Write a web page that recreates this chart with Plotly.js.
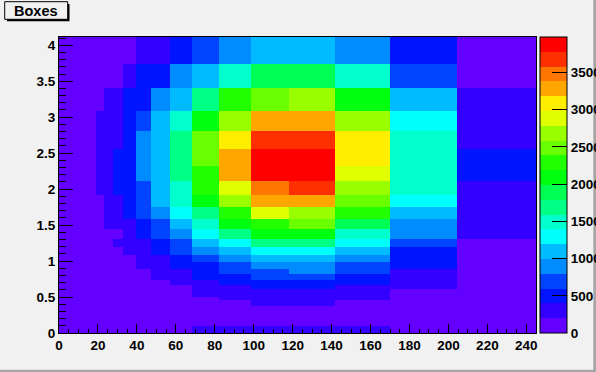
<!DOCTYPE html>
<html>
<head>
<meta charset="utf-8">
<script src="https://cdn.plot.ly/plotly-3.0.1.min.js"></script>
<style>
html,body{margin:0;padding:0;background:#f1f1f1;}
#chart{width:596px;height:372px;}
</style>
</head>
<body>
<div id="chart"></div>
<script>
// Bin edges of the variable-width boxes (x and y)
const xEdges = [0, 0.2, 0.24, 0.288, 0.3456, 0.41472, 0.497664, 0.5971968, 0.7166362, 0.8599634,
  1.0319561, 1.2383473, 1.4860167, 1.7832201, 2.1398641, 2.5678369, 3.0814043, 3.6976852,
  4.4372222, 5.3246667, 6.3896, 7.66752, 9.201024, 11.041229, 13.249475, 15.89937,
  19.079243, 22.895092, 27.47411, 32.968933, 39.562719, 47.475263, 56.970316, 68.364379,
  82.037254, 98.444705, 118.133646, 141.760376, 170.112451, 204.134941, 244.961929];
const yEdges = [0, 0.1, 0.11, 0.121, 0.1331, 0.14641, 0.161051, 0.1771561, 0.1948717, 0.2143589,
  0.2357948, 0.2593742, 0.2853117, 0.3138428, 0.3452271, 0.3797498, 0.4177248, 0.4594973,
  0.505447, 0.5559917, 0.6115909, 0.67275, 0.740025, 0.8140275, 0.8954302, 0.9849733,
  1.0834706, 1.1918177, 1.3109994, 1.4420994, 1.5863093, 1.7449402, 1.9194342, 2.1113777,
  2.3225154, 2.554767, 2.8102437, 3.0912681, 3.4003949, 3.7404343, 4.1144778];

// Bin contents (rows = y bins from bottom, columns = x bins from left), estimated from colour bands
const zCounts = [
 [100,100,100,100,100,100,100,100,100,100,100,100,100,100,100,100,100,100,100,100,100,100,100,100,100, 100,100,100,100,100,100,100,100,300,300,300,300,300,100,100],
 [100,100,100,100,100,100,100,100,100,100,100,100,100,100,100,100,100,100,100,100,100,100,100,100,100, 100,100,100,100,100,100,100,100,100,100,100,100,100,100,100],
 [100,100,100,100,100,100,100,100,100,100,100,100,100,100,100,100,100,100,100,100,100,100,100,100,100, 100,100,100,100,100,100,100,100,100,100,100,100,100,100,100],
 [100,100,100,100,100,100,100,100,100,100,100,100,100,100,100,100,100,100,100,100,100,100,100,100,100, 100,100,100,100,100,100,100,100,100,100,100,100,100,100,100],
 [100,100,100,100,100,100,100,100,100,100,100,100,100,100,100,100,100,100,100,100,100,100,100,100,100, 100,100,100,100,100,100,100,100,100,100,100,100,100,100,100],
 [100,100,100,100,100,100,100,100,100,100,100,100,100,100,100,100,100,100,100,100,100,100,100,100,100, 100,100,100,100,100,100,100,100,100,100,100,100,100,100,100],
 [100,100,100,100,100,100,100,100,100,100,100,100,100,100,100,100,100,100,100,100,100,100,100,100,100, 100,100,100,100,100,100,100,100,100,100,100,100,100,100,100],
 [100,100,100,100,100,100,100,100,100,100,100,100,100,100,100,100,100,100,100,100,100,100,100,100,100, 100,100,100,100,100,100,100,100,100,100,100,100,100,100,100],
 [100,100,100,100,100,100,100,100,100,100,100,100,100,100,100,100,100,100,100,100,100,100,100,100,100, 100,100,100,100,100,100,100,100,100,100,100,100,100,100,100],
 [100,100,100,100,100,100,100,100,100,100,100,100,100,100,100,100,100,100,100,100,100,100,100,100,100, 100,100,100,100,100,100,100,100,100,100,100,100,100,100,100],
 [100,100,100,100,100,100,100,100,100,100,100,100,100,100,100,100,100,100,100,100,100,100,100,100,100, 100,100,100,100,100,100,100,100,100,100,100,100,100,100,100],
 [100,100,100,100,100,100,100,100,100,100,100,100,100,100,100,100,100,100,100,100,100,100,100,100,100, 100,100,100,100,100,100,100,100,100,100,100,100,100,100,100],
 [100,100,100,100,100,100,100,100,100,100,100,100,100,100,100,100,100,100,100,100,100,100,100,100,100, 100,100,100,100,100,100,100,100,100,100,100,100,100,100,100],
 [100,100,100,100,100,100,100,100,100,100,100,100,100,100,100,100,100,100,100,100,100,100,100,100,100, 100,100,100,100,100,100,100,100,100,100,100,100,100,100,100],
 [100,100,100,100,100,100,100,100,100,100,100,100,100,100,100,100,100,100,100,100,100,100,100,100,100, 100,100,100,100,100,100,100,100,100,100,100,100,100,100,100],
 [100,100,100,100,100,100,100,100,100,100,100,100,100,100,100,100,100,100,100,100,100,100,100,100,100, 100,100,100,100,100,100,100,100,100,100,300,300,100,100,100],
 [100,100,100,100,100,100,100,100,100,100,100,100,100,100,100,100,100,100,100,100,100,100,100,100,100, 100,100,100,100,100,100,100,100,100,100,300,300,100,100,100],
 [100,100,100,100,100,100,100,100,100,100,100,100,100,100,100,100,100,100,100,100,100,100,100,100,100, 100,100,100,100,100,100,100,100,100,300,300,300,300,100,100],
 [100,100,100,100,100,100,100,100,100,100,100,100,100,100,100,100,100,100,100,100,100,100,100,100,100, 100,100,100,100,100,100,100,100,300,300,300,300,300,100,100],
 [100,100,100,100,100,100,100,100,100,100,100,100,100,100,100,100,100,100,100,100,100,100,100,100,100, 100,100,100,100,100,100,100,100,300,300,300,300,300,100,100],
 [100,100,100,100,100,100,100,100,100,100,100,100,100,100,100,100,100,100,100,100,100,100,100,100,100, 100,100,100,100,100,100,100,100,300,300,500,500,300,300,100],
 [100,100,100,100,100,100,100,100,100,100,100,100,100,100,100,100,100,100,100,100,100,100,100,100,100, 100,100,100,100,100,100,100,300,300,500,500,500,500,300,100],
 [100,100,100,100,100,100,100,100,100,100,100,100,100,100,100,100,100,100,100,100,100,100,100,100,100, 100,100,100,100,100,100,300,300,500,500,700,700,500,300,100],
 [100,100,100,100,100,100,100,100,100,100,100,100,100,100,100,100,100,100,100,100,100,100,100,100,100, 100,100,100,100,100,100,300,300,500,700,700,900,700,300,100],
 [100,100,100,100,100,100,100,100,100,100,100,100,100,100,100,100,100,100,100,100,100,100,100,100,100, 100,100,100,100,100,300,300,500,500,700,900,900,700,500,100],
 [100,100,100,100,100,100,100,100,100,100,100,100,100,100,100,100,100,100,100,100,100,100,100,100,100, 100,100,100,100,100,300,300,500,700,900,1100,1100,900,500,100],
 [100,100,100,100,100,100,100,100,100,100,100,100,100,100,100,100,100,100,100,100,100,100,100,100,100, 100,100,100,100,300,300,500,700,900,1100,1300,1300,1100,500,100],
 [100,100,100,100,100,100,100,100,100,100,100,100,100,100,100,100,100,100,100,100,100,100,100,100,100, 100,100,100,300,300,300,500,700,1100,1300,1690,1690,1300,700,100],
 [100,100,100,100,100,100,100,100,100,100,100,100,100,100,100,100,100,100,100,100,100,100,100,100,100, 100,100,100,100,300,500,700,900,1300,1690,2090,2090,1490,900,300],
 [100,100,100,100,100,100,100,100,100,100,100,100,100,100,100,100,100,100,100,100,100,100,100,100,100, 100,100,300,300,300,500,700,1100,1490,2090,2290,2480,1890,900,300],
 [100,100,100,100,100,100,100,100,100,100,100,100,100,100,100,100,100,100,100,100,100,100,100,100,100, 100,100,300,300,500,700,900,1300,1690,2290,2880,2680,2290,1100,300],
 [100,100,100,100,100,100,100,100,100,100,100,100,100,100,100,100,100,100,100,100,100,100,100,100,100, 100,100,300,300,500,700,1100,1490,2090,2680,3280,3280,2480,1300,300],
 [100,100,100,100,100,100,100,100,100,100,100,100,100,100,100,100,100,100,100,100,100,100,100,100,100, 100,300,300,500,500,700,1100,1490,2290,2880,3480,3680,2680,1490,300],
 [100,100,100,100,100,100,100,100,100,100,100,100,100,100,100,100,100,100,100,100,100,100,100,100,100, 100,300,300,500,500,900,1100,1690,2290,3280,3880,3880,2880,1490,500],
 [100,100,100,100,100,100,100,100,100,100,100,100,100,100,100,100,100,100,100,100,100,100,100,100,100, 100,300,300,500,500,900,1100,1690,2480,3280,3880,3940,3080,1490,500],
 [100,100,100,100,100,100,100,100,100,100,100,100,100,100,100,100,100,100,100,100,100,100,100,100,100, 100,300,300,300,500,900,1100,1690,2480,3080,3680,3680,3080,1490,300],
 [100,100,100,100,100,100,100,100,100,100,100,100,100,100,100,100,100,100,100,100,100,100,100,100,100, 100,300,300,300,500,700,1100,1490,2090,2680,3280,3280,2680,1300,300],
 [100,100,100,100,100,100,100,100,100,100,100,100,100,100,100,100,100,100,100,100,100,100,100,100,100, 100,100,300,300,500,500,900,1100,1690,2290,2480,2680,2090,1100,300],
 [100,100,100,100,100,100,100,100,100,100,100,100,100,100,100,100,100,100,100,100,100,100,100,100,100, 100,100,100,100,300,500,500,900,1100,1490,1890,1890,1490,700,100],
 [100,100,100,100,100,100,100,100,100,100,100,100,100,100,100,100,100,100,100,100,100,100,100,100,100, 100,100,100,100,100,300,300,500,700,900,1100,1100,900,500,100]
];

// Palette: 20 contour colours, bottom to top
const levelColors = ['#6300ff','#3300ff','#0014ff','#0044ff','#008bff','#00bbff','#00fffc','#00ffcc',
  '#00ff85','#00ff55','#00ff0e','#22ff00','#69ff00','#99ff00','#e0ff00','#ffee00','#ffa700',
  '#ff7700','#ff3000','#ff0000'];
const zMin = 0, zMax = 3975;
const cbTickVals = [0,500,1000,1500,2000,2500,3000,3500];
const cbTickText = ['0','500','1000','1500','2000','2500','3000','3500'];
const titleText = 'Boxes';

// stepped colorscale built from the palette
const nLev = levelColors.length;
const colorscale = [];
levelColors.forEach((c, k) => { colorscale.push([k / nLev, c]); colorscale.push([(k + 1) / nLev, c]); });

const W = 596, H = 372, L = 59, T = 37, PW = 477, PH = 296;
const px = v => (v - L) / PW;
const py = v => (T + PH - v) / PH;

const tickFont = {family: 'Liberation Sans, Arial, sans-serif', size: 13.5, weight: 'bold', color: '#000'};

const trace = {
  type: 'heatmap',
  x: xEdges, y: yEdges, z: zCounts,
  zmin: zMin, zmax: zMax, zsmooth: false,
  colorscale: colorscale,
  hoverinfo: 'skip',
  colorbar: {
    thicknessmode: 'pixels', thickness: 26.5,
    lenmode: 'fraction', len: 1,
    xref: 'paper', x: px(539.5), xanchor: 'left',
    yref: 'paper', y: 0, yanchor: 'bottom',
    xpad: 0, ypad: 0,
    outlinewidth: 1, outlinecolor: '#000',
    tickmode: 'array', tickvals: cbTickVals, ticktext: cbTickText,
    ticks: 'inside', ticklen: 15, tickwidth: 1, tickcolor: '#000',
    tickfont: tickFont
  }
};

const layout = {
  width: W, height: H,
  margin: {l: L, r: W - L - PW, t: T, b: H - T - PH, autoexpand: false},
  paper_bgcolor: '#f1f1f1', plot_bgcolor: '#ffffff',
  showlegend: false,
  xaxis: {
    range: [xEdges[0], xEdges[xEdges.length - 1]],
    tick0: 0, dtick: 20, ticks: 'inside', ticklen: 9, tickwidth: 1, tickcolor: '#000',
    minor: {tick0: 0, dtick: 5, ticks: 'inside', ticklen: 4.5, tickwidth: 1, tickcolor: '#000', showgrid: false},
    showgrid: false, zeroline: false, showline: true, linecolor: '#000', linewidth: 1, mirror: true,
    tickfont: tickFont, fixedrange: true
  },
  yaxis: {
    range: [yEdges[0], yEdges[yEdges.length - 1]],
    tick0: 0, dtick: 0.5, ticks: 'inside', ticklen: 14.3, tickwidth: 1, tickcolor: '#000',
    minor: {tick0: 0, dtick: 0.1, ticks: 'inside', ticklen: 7.2, tickwidth: 1, tickcolor: '#000', showgrid: false},
    showgrid: false, zeroline: false, showline: true, linecolor: '#000', linewidth: 1, mirror: true,
    tickfont: tickFont, fixedrange: true
  },
  shapes: [
    // title box shadow and box
    {type: 'rect', xref: 'paper', yref: 'paper', x0: px(7), x1: px(69.5), y0: py(21.3), y1: py(4),
     fillcolor: '#000', line: {width: 0}, layer: 'above'},
    {type: 'rect', xref: 'paper', yref: 'paper', x0: px(4.7), x1: px(67.7), y0: py(19.3), y1: py(1.7),
     fillcolor: '#f1f1f1', line: {color: '#000', width: 1}, layer: 'above'},
    // canvas bevel (dark sides)
    {type: 'rect', xref: 'paper', yref: 'paper', x0: px(593.3), x1: px(597), y0: py(373), y1: py(-1),
     fillcolor: '#a6a6a6', line: {width: 0}, layer: 'above'},
    {type: 'rect', xref: 'paper', yref: 'paper', x0: px(-1), x1: px(597), y0: py(373), y1: py(369.7),
     fillcolor: '#a6a6a6', line: {width: 0}, layer: 'above'}
  ],
  annotations: [
    {text: titleText, xref: 'paper', yref: 'paper', x: px(36.4), y: py(11), xanchor: 'center', yanchor: 'middle',
     showarrow: false, font: {family: 'Liberation Sans, Arial, sans-serif', size: 14.5, weight: 'bold', color: '#000'}}
  ]
};

Plotly.newPlot('chart', [trace], layout, {staticPlot: true, displayModeBar: false});
</script>
</body>
</html>
